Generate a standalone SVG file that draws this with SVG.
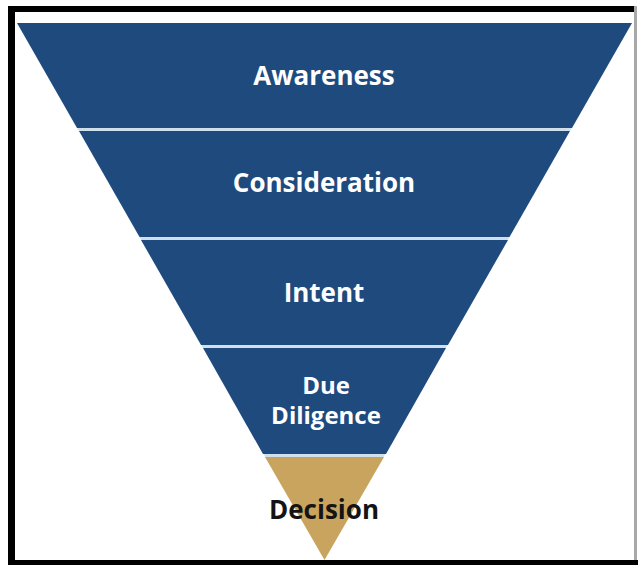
<svg xmlns="http://www.w3.org/2000/svg" width="638" height="565" viewBox="0 0 638 565">
<style>
.band{fill:#1f4a7e}
.gold{fill:#c8a45e}
.sep{stroke:#cfe0ec;stroke-width:3}
.lbl{font-family:"Open Sans","Liberation Sans",sans-serif;font-weight:bold;font-size:26px;text-anchor:middle;fill:#ffffff}
.sm{font-size:24px}
.dark{fill:#141414}
</style>
<defs>
<clipPath id="tri"><polygon points="17,23 632,23 324.5,560"/></clipPath>
</defs>
<rect width="638" height="565" fill="#ffffff"/>
<g id="frame">
<rect x="8" y="6" width="626" height="6" fill="#000"/>
<rect x="8" y="6" width="7" height="559" fill="#000"/>
<rect x="8" y="560" width="630" height="5" fill="#000"/>
<rect x="634" y="6" width="3" height="554" fill="#a8a8a8"/>
</g>
<g id="awareness">
<polygon class="band" points="17,23 632,23 572,128 77,128"/>
<text class="lbl" x="324" y="85">Awareness</text>
</g>
<g id="consideration">
<polygon class="band" points="79,131 570,131 509.5,237 139.5,237"/>
<text class="lbl" x="324" y="192">Consideration</text>
</g>
<g id="intent">
<polygon class="band" points="141,240 508,240 448,345 201,345"/>
<text class="lbl" x="324" y="302">Intent</text>
</g>
<g id="due-diligence">
<polygon class="band" points="203,348 446,348 386,454 263,454"/>
<text class="lbl sm" x="326" y="394">Due</text>
<text class="lbl sm" x="326" y="424">Diligence</text>
</g>
<g id="decision">
<polygon class="gold" points="265,457 384,457 324.5,560"/>
<text class="lbl dark" x="324" y="519">Decision</text>
</g>
<g id="connectors" clip-path="url(#tri)">
<line class="sep" x1="0" y1="129.5" x2="638" y2="129.5"/>
<line class="sep" x1="0" y1="238.5" x2="638" y2="238.5"/>
<line class="sep" x1="0" y1="346.5" x2="638" y2="346.5"/>
<line class="sep" x1="0" y1="455.5" x2="638" y2="455.5" stroke="#f2f2ee"/>
</g>
</svg>
